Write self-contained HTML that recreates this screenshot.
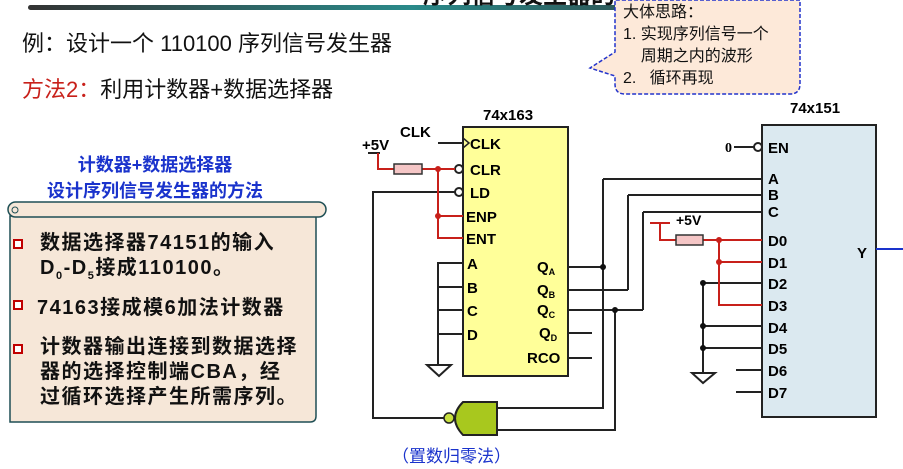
<!DOCTYPE html>
<html><head><meta charset="utf-8"><style>
body{margin:0;width:903px;height:469px;background:#fff;overflow:hidden;position:relative;font-family:"Liberation Sans","Noto Sans CJK SC",sans-serif}
.t{position:absolute;white-space:nowrap}
</style></head><body>
<svg width="903" height="469" style="position:absolute;left:0;top:0" font-family="Liberation Sans, Noto Sans CJK SC, sans-serif">
<defs><linearGradient id="bar" x1="0" x2="1"><stop offset="0" stop-color="#333"/><stop offset=".5" stop-color="#2a8a8a"/><stop offset="1" stop-color="#333"/></linearGradient></defs>
<rect x="28" y="5" width="768" height="5" rx="2.5" fill="url(#bar)"/>
<text x="143" y="3" font-size="24" font-weight="bold" fill="#111" transform="translate(280,0)">序列信号发生器的设计</text>
<path d="M622,0 L800,0 L800,84 Q800,94 790,94 L625,94 Q615,94 615,84 L615,76 L590,68 L615,52 L615,0Z" fill="#fde9d9" stroke="#2233cc" stroke-width="1.5" stroke-dasharray="4,2"/>
<path d="M16,216 L316,216 L316,416 Q316,422 310,422 L10,422 L10,216Z" fill="#f6e7d8" stroke="#1f4f55" stroke-width="1.5"/>
<rect x="8" y="202" width="318" height="15" rx="7.5" fill="#f6e7d8" stroke="#1f4f55" stroke-width="1.5"/>
<circle cx="15" cy="210" r="3" fill="none" stroke="#1f4f55"/>
<g fill="#fff" stroke="#c00000" stroke-width="2"><rect x="14" y="240" width="8" height="8"/><rect x="14" y="301" width="8" height="8"/><rect x="14" y="345" width="8" height="8"/></g>
<rect x="463" y="127" width="105" height="249" fill="#ffff99" stroke="#222" stroke-width="2"/>
<text x="483" y="120" font-size="15" font-weight="bold">74x163</text>
<g font-size="15" font-weight="bold">
<text x="470" y="149">CLK</text><text x="470" y="175">CLR</text><text x="470" y="198">LD</text>
<text x="466" y="222">ENP</text><text x="466" y="244">ENT</text>
<text x="467" y="269">A</text><text x="467" y="293">B</text><text x="467" y="316">C</text><text x="467" y="340">D</text>
<text x="537" y="272">Q<tspan font-size="9" dy="3">A</tspan></text>
<text x="537" y="295">Q<tspan font-size="9" dy="3">B</tspan></text>
<text x="537" y="315">Q<tspan font-size="9" dy="3">C</tspan></text>
<text x="539" y="338">Q<tspan font-size="9" dy="3">D</tspan></text>
<text x="527" y="363">RCO</text>
<text x="400" y="137">CLK</text><text x="362" y="150">+5V</text>
</g>
<path d="M463,138 L469,143 L463,148" fill="none" stroke="#222" stroke-width="1.5"/>
<g stroke="#222" stroke-width="2" fill="none">
<path d="M438,143 H463"/>
<path d="M368,153 H380"/>
<circle cx="459" cy="169" r="4" fill="#fff"/><circle cx="459" cy="192" r="4" fill="#fff"/>
<path d="M455,192 H373 V418 H444"/>
<path d="M463,263 H438 V365 M463,287 H438 M463,310 H438 M463,334 H438"/>
<path d="M427,365 H451 L439,376Z"/>
<path d="M568,267 H603 M568,290 H628 M568,310 H643 M568,333 H592 M568,358 H592"/>
<path d="M603,179 H762 M603,179 V408 H497 M628,195 H762 M628,195 V290 M643,212 H762 M643,212 V310 M615,310 V430 H497"/>
</g>
<path d="M463,402 H497 V435 H463 Q447,418 463,402Z" fill="#a8c81e" stroke="#222" stroke-width="2"/>
<circle cx="449" cy="418" r="5" fill="#c8e040" stroke="#222" stroke-width="1.5"/>
<g fill="#111"><circle cx="603" cy="267" r="3"/><circle cx="615" cy="310" r="3"/></g>
<g stroke="#c8201a" stroke-width="2" fill="none">
<path d="M378,153 V169 H394 M422,169 H455 M438,169 V238 H463 M438,216 H463"/>
</g>
<rect x="394" y="164" width="28" height="10" fill="#f5c6c6" stroke="#333" stroke-width="1.5"/>
<g fill="#c8201a"><circle cx="438" cy="169" r="3"/><circle cx="438" cy="216" r="3"/></g>
<text x="392" y="462" font-size="17" fill="#1a33cc">（置数归零法）</text>
<rect x="762" y="125" width="114" height="292" fill="#dbe9f0" stroke="#222" stroke-width="2"/>
<text x="790" y="113" font-size="15" font-weight="bold">74x151</text>
<g font-size="15" font-weight="bold">
<text x="768" y="153">EN</text><text x="768" y="184">A</text><text x="768" y="200">B</text><text x="768" y="217">C</text>
<text x="768" y="246">D0</text><text x="768" y="268">D1</text><text x="768" y="289">D2</text><text x="768" y="311">D3</text>
<text x="768" y="333">D4</text><text x="768" y="354">D5</text><text x="768" y="376">D6</text><text x="768" y="398">D7</text>
<text x="857" y="258">Y</text><text x="676" y="225" font-size="14">+5V</text>
</g>
<text x="725" y="152" font-size="14" font-weight="bold" font-family="Liberation Serif">0</text>
<g stroke="#222" stroke-width="2" fill="none">
<path d="M734,147 H754"/><circle cx="758" cy="147" r="4" fill="#fff"/>
<path d="M703,283 H762 M703,283 V373 M703,326 H762 M703,348 H762 M736,370 H762 M736,392 H762"/>
<path d="M692,373 H715 L703,383Z"/>
</g>
<g fill="#111"><circle cx="703" cy="283" r="3"/><circle cx="703" cy="326" r="3"/><circle cx="703" cy="348" r="3"/></g>
<g stroke="#c8201a" stroke-width="2" fill="none">
<path d="M650,223 H670 M660,223 V240 H676 M703,240 H762 M719,240 V305 H762 M719,262 H762"/>
</g>
<rect x="676" y="235" width="27" height="10" fill="#f5c6c6" stroke="#333" stroke-width="1.5"/>
<g fill="#c8201a"><circle cx="719" cy="240" r="3"/><circle cx="719" cy="262" r="3"/></g>
<path d="M876,249 H903" stroke="#1a33cc" stroke-width="2"/>
</svg>
<div class="t" style="left:22px;top:26px;font-size:22px;color:#111">例：设计一个 110100 序列信号发生器</div>
<div class="t" style="left:22px;top:72px;font-size:22px;color:#111"><span style="color:#c8201a">方法2：</span>利用计数器+数据选择器</div>
<div class="t" style="left:623px;top:2px;font-size:16px;line-height:22px;color:#111">大体思路：<br>1. 实现序列信号一个<br>&nbsp;&nbsp;&nbsp; 周期之内的波形<br>2.&nbsp;&nbsp; 循环再现</div>
<div class="t" style="left:0;width:310px;text-align:center;top:152px;font-size:18px;line-height:26px;font-weight:bold;color:#1a33cc">计数器+数据选择器<br>设计序列信号发生器的方法</div>
<div class="t" style="left:40px;top:231px;font-size:20px;letter-spacing:1.5px;line-height:25px;font-weight:bold;color:#111">数据选择器74151的输入<br>D<sub style="font-size:11px">0</sub>-D<sub style="font-size:11px">5</sub>接成110100。</div>
<div class="t" style="left:37px;top:291px;font-size:20px;letter-spacing:1.5px;font-weight:bold;color:#111">74163接成模6加法计数器</div>
<div class="t" style="left:40px;top:335px;font-size:20px;letter-spacing:1.5px;line-height:25px;font-weight:bold;color:#111">计数器输出连接到数据选择<br>器的选择控制端CBA，经<br>过循环选择产生所需序列。</div>
</body></html>
